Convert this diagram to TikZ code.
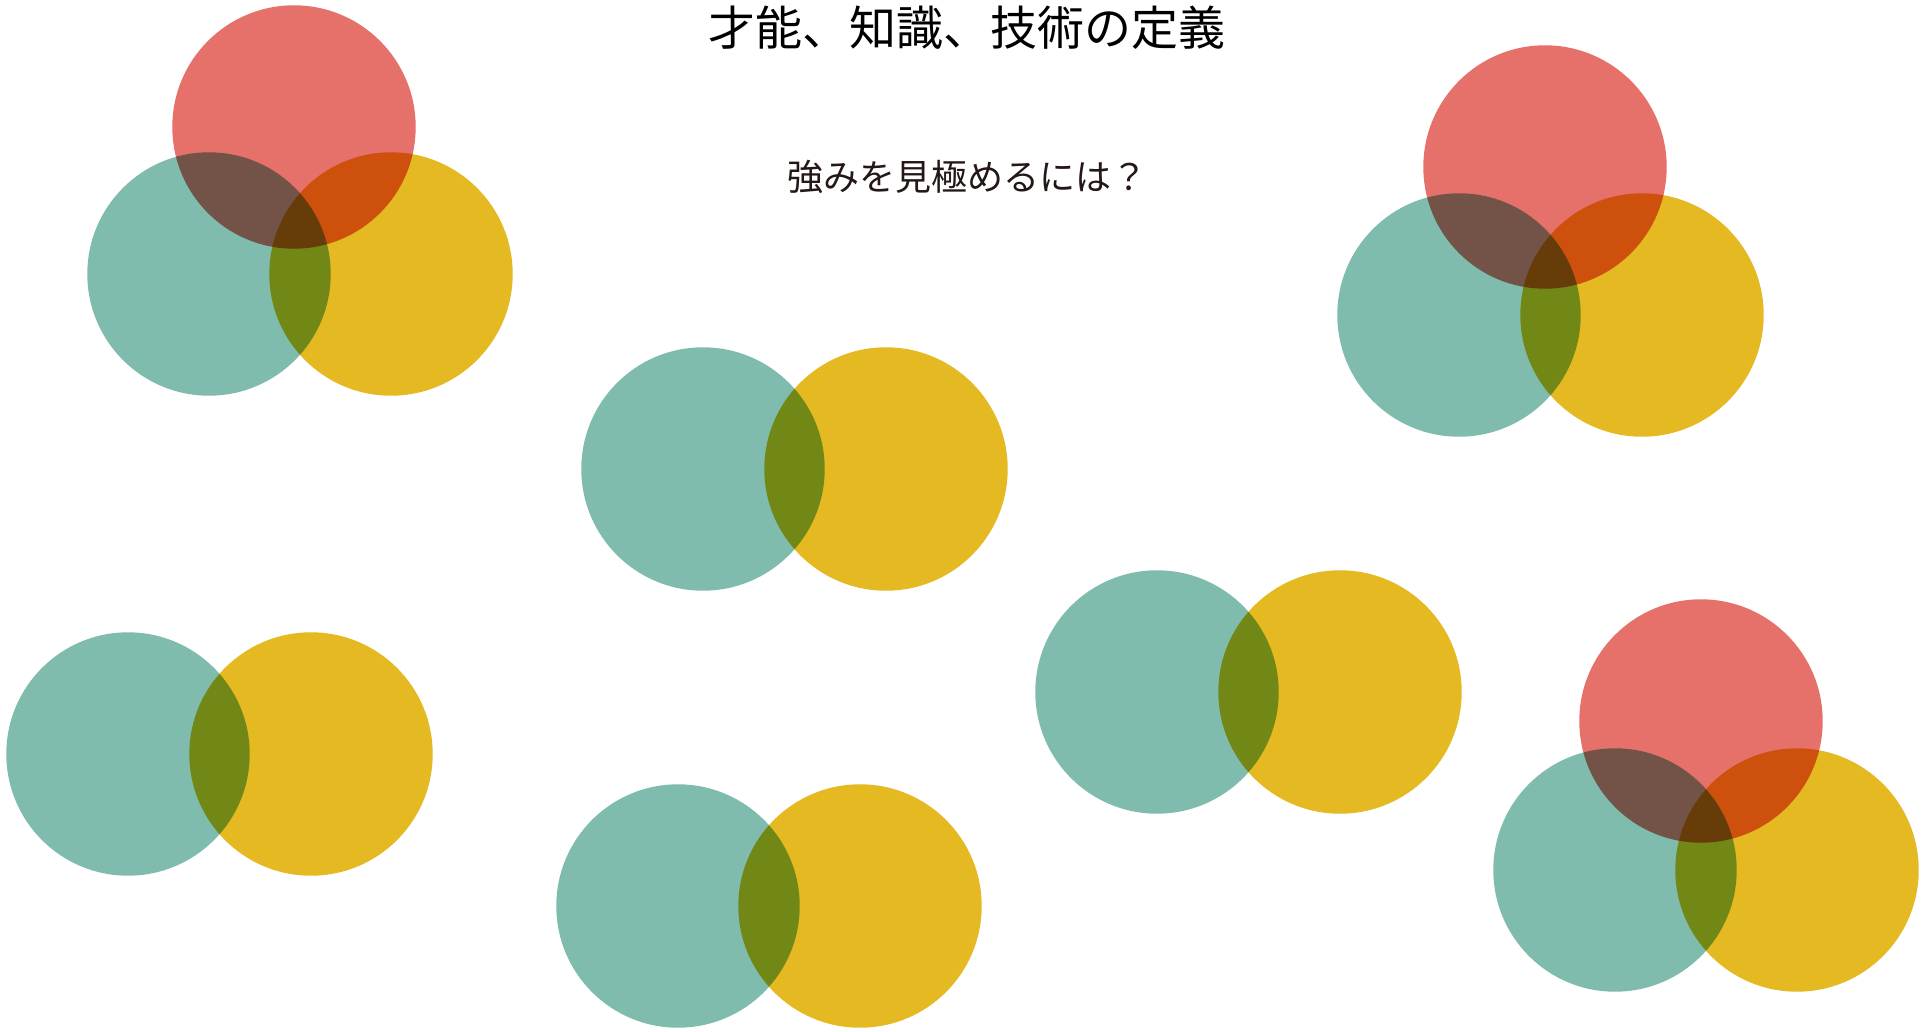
\documentclass[tikz,border=0pt]{standalone}
\usepackage{fontspec}
\newfontfamily\jpfont{Noto Sans CJK JP}
\definecolor{redc}{HTML}{E6716A}
\definecolor{tealc}{HTML}{80BCAE}
\definecolor{yellowc}{HTML}{E4B921}
\definecolor{inkc}{HTML}{231815}
\tikzset{disc/.style={circle,minimum size=243.4pt,inner sep=0pt,blend mode=multiply}}

\begin{document}
\begin{tikzpicture}[x=1pt,y=-1pt]
	\useasboundingbox[fill=white](0,0)rectangle(1928,1031);
	\node[font=\jpfont\fontsize{47}{56}\selectfont,anchor=base](title)at(967,45){才能、知識、技術の定義};
	\node[font=\jpfont\fontsize{36}{44}\selectfont,text=inkc,anchor=base](sub)at(967,190){強みを見極めるには？};
	\node[disc,fill=redc](R1)at(294,127){};
	\node[disc,fill=tealc](T1)at(209,274){};
	\node[disc,fill=yellowc](Y1)at(391,274){};
	\node[disc,fill=redc](R2)at(1545,167){};
	\node[disc,fill=tealc](T2)at(1459,315){};
	\node[disc,fill=yellowc](Y2)at(1642,315){};
	\node[disc,fill=tealc](T3)at(703,469){};
	\node[disc,fill=yellowc](Y3)at(886,469){};
	\node[disc,fill=tealc](T4)at(128,754){};
	\node[disc,fill=yellowc](Y4)at(311,754){};
	\node[disc,fill=tealc](T5)at(1157,692){};
	\node[disc,fill=yellowc](Y5)at(1340,692){};
	\node[disc,fill=tealc](T6)at(678,906){};
	\node[disc,fill=yellowc](Y6)at(860,906){};
	\node[disc,fill=redc](R7)at(1701,721){};
	\node[disc,fill=tealc](T7)at(1615,870){};
	\node[disc,fill=yellowc](Y7)at(1797,870){};
\end{tikzpicture}
\end{document}
